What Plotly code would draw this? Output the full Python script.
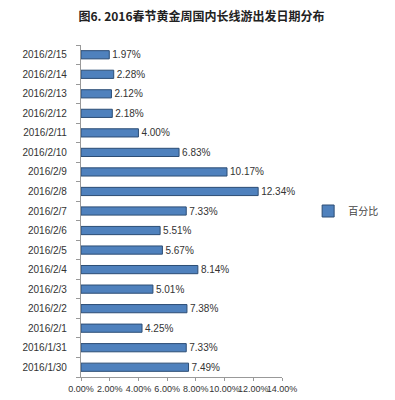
import plotly.graph_objects as go

dates = ["2016/1/30", "2016/1/31", "2016/2/1", "2016/2/2", "2016/2/3", "2016/2/4",
         "2016/2/5", "2016/2/6", "2016/2/7", "2016/2/8", "2016/2/9", "2016/2/10",
         "2016/2/11", "2016/2/12", "2016/2/13", "2016/2/14", "2016/2/15"]
share = [7.49, 7.33, 4.25, 7.38, 5.01, 8.14, 5.67, 5.51, 7.33, 12.34, 10.17, 6.83,
         4.00, 2.18, 2.12, 2.28, 1.97]
tick_vals = [0, 2, 4, 6, 8, 10, 12, 14]
tick_text = ["0.00%", "2.00%", "4.00%", "6.00%", "8.00%", "10.00%", "12.00%", "14.00%"]

fig = go.Figure()
fig.add_trace(go.Bar(
    y=dates, x=share, orientation="h", name="百分比",
    marker=dict(color="#4f81bd", line=dict(color="#2c4d75", width=1)),
    width=0.42,
    text=[f"{v:.2f}%" for v in share], textposition="outside",
    constraintext="none",
    textfont=dict(size=10, color="#333333", family="Liberation Sans"),
    cliponaxis=False,
))

fig.update_layout(
    width=387, height=392,
    margin=dict(l=73, r=90, t=37, b=23),
    paper_bgcolor="white", plot_bgcolor="white",
    title=dict(text="<b>图6. 2016春节黄金周国内长线游出发日期分布</b>",
               x=0.5, xanchor="center", y=0.978, yanchor="middle",
               font=dict(size=12, color="#222222", family="Noto Sans CJK SC")),
    showlegend=True,
    legend=dict(x=1.13, y=0.5, xanchor="left", yanchor="middle", itemwidth=30,
                font=dict(size=10, color="#444444", family="Noto Sans CJK SC"),
                bgcolor="rgba(0,0,0,0)"),
    font=dict(family="Liberation Sans", size=10, color="#333333"),
)
fig.update_xaxes(range=[0, 14], tickvals=tick_vals, ticktext=tick_text,
                 tickangle=0, automargin=False,
                 showgrid=False, zeroline=False, showline=True, linecolor="#999999",
                 ticks="outside", ticklen=3, tickcolor="#999999",
                 tickfont=dict(size=9, color="#333333"))
fig.update_yaxes(type="category", categoryorder="array", categoryarray=dates,
                 automargin=False,
                 showgrid=False, showline=True, linecolor="#999999",
                 ticks="outside", ticklen=4, tickcolor="#999999", tickson="boundaries",
                 tickfont=dict(size=10, color="#333333"), ticksuffix="    ")

fig.write_html("out.html")
